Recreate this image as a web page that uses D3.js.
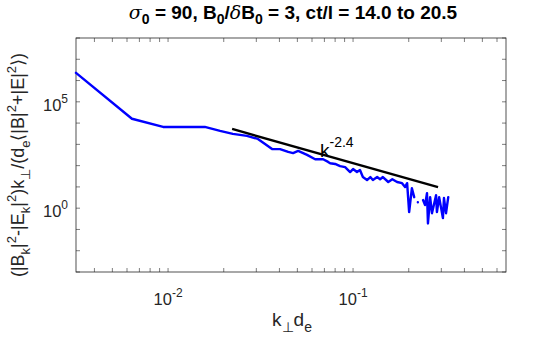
<!DOCTYPE html>
<html>
<head>
<meta charset="utf-8">
<script src="https://cdn.jsdelivr.net/npm/d3@7"></script>
<style>
  body { margin: 0; background: #fff; }
  text { font-family: Arial, "Liberation Sans", Helvetica, sans-serif; fill: #262626; }
</style>
</head>
<body>
<svg id="chart" width="560" height="340"></svg>
<script>
// spectrum, k_perp d_e vs value (null = negative value, not drawn on log axis)
const kPerp = [0.00318, 0.00638, 0.0094, 0.0158, 0.0191, 0.0224, 0.0267, 0.0306, 0.0327, 0.0365,
  0.0403, 0.0446, 0.0474, 0.0505, 0.0564, 0.0624, 0.0689, 0.0733, 0.0752, 0.08,
  0.0851, 0.0906, 0.0964, 0.1, 0.105, 0.109, 0.113, 0.119, 0.124, 0.128,
  0.135, 0.14, 0.145, 0.155, 0.163, 0.173, 0.184, 0.191, 0.196, 0.201,
  0.208, 0.214, 0.219, 0.224, 0.232, 0.239, 0.245, 0.251, 0.254, 0.261,
  0.267, 0.281, 0.284, 0.292, 0.306, 0.31, 0.318, 0.327];
const spectrum = [2.3e6, 1.6e4, 6.6e3, 6.6e3, 4.3e3, 3.1e3, 2.5e3, 1.8e3, 1.2e3, 600,
  600, 440, 390, 490, 320, 200, 200, 150, 130, 120,
  95, 85, 50, 69, 50, 62, 29, 21, 29, 21,
  29, 23, 29, 17, 23, 17, 15, 9.8, 15, 0.65,
  8.7, 3.3, null, 1.9, null, 2.4, 1.4, 5.1, 0.19, 3.3,
  0.58, 4.1, 0.65, 3.3, 0.34, 3.0, 0.58, 3.3];

// power-law fit k^-2.4 (end points)
const fitK = [0.0222, 0.288];
const fitV = [5.3e3, 9.8];

const xTicks = [1e-2, 1e-1];
const yTicks = [1e0, 1e5];

const svg = d3.select("#chart");
const margin = { left: 76, right: 54, top: 38, bottom: 68 };
const W = 560, H = 340;

const x = d3.scaleLog().domain([0.00318, 0.671]).range([margin.left, W - margin.right]);
const y = d3.scaleLog().domain([1e-3, 1e8]).range([H - margin.bottom, margin.top]);

const axisColor = "#262626";
const tickLen = 4;

// minor ticks on x (every 1..9 x decade), on y every decade
const xMinor = [];
for (let e = -3; e <= 0; e++) {
  for (let m = 1; m <= 9; m++) {
    const v = m * Math.pow(10, e);
    if (v >= x.domain()[0] && v <= x.domain()[1]) xMinor.push(v);
  }
}
const yMinor = d3.range(-3, 9).map((e) => Math.pow(10, e));

const ticks = svg.append("g").attr("stroke", axisColor).attr("stroke-width", 0.6);
xMinor.forEach((v) => {
  const px = x(v);
  ticks.append("line").attr("x1", px).attr("x2", px).attr("y1", y.range()[0]).attr("y2", y.range()[0] - tickLen);
  ticks.append("line").attr("x1", px).attr("x2", px).attr("y1", y.range()[1]).attr("y2", y.range()[1] + tickLen);
});
yMinor.forEach((v) => {
  const py = y(v);
  ticks.append("line").attr("x1", x.range()[0]).attr("x2", x.range()[0] + tickLen).attr("y1", py).attr("y2", py);
  ticks.append("line").attr("x1", x.range()[1]).attr("x2", x.range()[1] - tickLen).attr("y1", py).attr("y2", py);
});

// box
svg.append("rect")
  .attr("x", x.range()[0]).attr("y", y.range()[1])
  .attr("width", x.range()[1] - x.range()[0])
  .attr("height", y.range()[0] - y.range()[1])
  .attr("fill", "none").attr("stroke", axisColor).attr("stroke-width", 0.8);

// tick labels
function powLabel(g, v) {
  const e = Math.round(Math.log10(v));
  g.append("tspan").text("10");
  g.append("tspan").attr("dy", -8).attr("font-size", 12).text(e);
}
xTicks.forEach((v) => {
  const t = svg.append("text").attr("x", x(v)).attr("y", 305)
    .attr("text-anchor", "middle").attr("font-size", 16.5);
  powLabel(t, v);
});
yTicks.forEach((v) => {
  const t = svg.append("text").attr("x", 68).attr("y", y(v) + 9)
    .attr("text-anchor", "end").attr("font-size", 16.5);
  powLabel(t, v);
});

// data line
const pts = kPerp.map((k, i) => ({ k: k, v: spectrum[i] }));
const line = d3.line()
  .defined((d) => d.v !== null)
  .x((d) => x(d.k))
  .y((d) => y(d.v));

svg.append("path")
  .datum(pts)
  .attr("d", line)
  .attr("fill", "none")
  .attr("stroke", "#0000ff")
  .attr("stroke-width", 2.4)
  .attr("stroke-linejoin", "round")
  .attr("stroke-linecap", "round");

// fit line
svg.append("path")
  .datum(fitK.map((k, i) => ({ k: k, v: fitV[i] })))
  .attr("d", line)
  .attr("fill", "none")
  .attr("stroke", "#000")
  .attr("stroke-width", 2.4);

const kl = svg.append("text").attr("x", 320).attr("y", 157).attr("font-size", 19).style("fill", "#000");
kl.append("tspan").text("k");
kl.append("tspan").attr("dy", -10).attr("font-size", 14).text("-2.4");

// title
const title = svg.append("text").attr("x", 293).attr("y", 19)
  .attr("text-anchor", "middle").attr("font-size", 19).attr("font-weight", "bold").style("fill", "#000");
title.append("tspan").attr("font-style", "italic").attr("font-family", "'DejaVu Serif', serif").attr("font-weight", "normal").text("σ");
title.append("tspan").attr("dy", 5).attr("font-size", 14).text("0");
title.append("tspan").attr("dy", -5).text(" = 90, B");
title.append("tspan").attr("dy", 5).attr("font-size", 14).text("0");
title.append("tspan").attr("dy", -5).text("/");
title.append("tspan").attr("font-style", "italic").attr("font-family", "'DejaVu Serif', serif").attr("font-weight", "normal").text("δ");
title.append("tspan").text("B");
title.append("tspan").attr("dy", 5).attr("font-size", 14).text("0");
title.append("tspan").attr("dy", -5).text(" = 3, ct/l = 14.0 to 20.5");

// x label
const xl = svg.append("text").attr("x", 292).attr("y", 326).attr("text-anchor", "middle").attr("font-size", 19);
xl.append("tspan").text("k");
xl.append("tspan").attr("dy", 6).attr("font-size", 14).text("⊥");
xl.append("tspan").attr("dy", -6).text("d");
xl.append("tspan").attr("dy", 6).attr("font-size", 14).text("e");

// y label
const yl = svg.append("text")
  .attr("transform", "translate(24,165) rotate(-90)")
  .attr("text-anchor", "middle").attr("font-size", 18);
const parts = [
  ["(|B", 0], ["k", 1], ["|", 0], ["2", -1], ["-|E", 0], ["k", 1], ["|", 0], ["2", -1],
  [")k", 0], ["⊥", 1], ["/(d", 0], ["e", 1], ["⟨|B|", 0], ["2", -1], ["+|E|", 0], ["2", -1], ["⟩)", 0]
];
let lvl = 0;
parts.forEach((p) => {
  const shift = { "0": 0, "1": 6, "-1": -8 };
  const dy = shift[p[1]] - shift[lvl];
  const t = yl.append("tspan").attr("dy", dy).text(p[0]);
  if (p[1] !== 0) t.attr("font-size", 13);
  lvl = p[1];
});
</script>
</body>
</html>
